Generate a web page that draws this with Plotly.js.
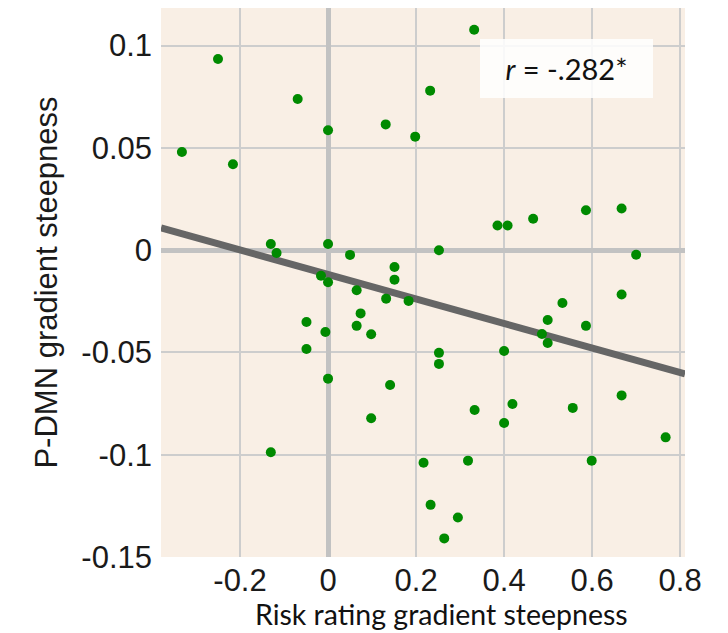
<!DOCTYPE html>
<html>
<head>
<meta charset="utf-8">
<script src="https://cdn.plot.ly/plotly-3.0.1.min.js"></script>
<style>html,body{margin:0;padding:0;background:#fff;}#chart{width:728px;height:633px;}</style>
</head>
<body>
<div id="chart"></div>
<script>
// Risk rating gradient steepness (x) vs P-DMN gradient steepness (y)
const riskX = [0.332, -0.332, -0.25, -0.216, -0.069, 0.0, 0.131, 0.198, 0.232,
  -0.13, -0.117, 0.0, 0.05, 0.252, 0.151, 0.151, -0.016, 0.0, 0.065, 0.132, 0.183,
  0.074, -0.049, 0.065, -0.006, 0.098, -0.049, 0.252, 0.252, 0.0, 0.141, 0.098,
  -0.13, 0.217, 0.233, 0.264, 0.295, 0.318, 0.333, 0.419, 0.40, 0.40, 0.499, 0.486,
  0.499, 0.5325, 0.586, 0.667, 0.667, 0.556, 0.599, 0.767, 0.385, 0.408, 0.466,
  0.586, 0.667, 0.70];
const pdmnY = [0.1078, 0.048, 0.0935, 0.042, 0.0739, 0.0586, 0.0615, 0.0555, 0.078,
  0.003, -0.0014, 0.003, -0.0023, 0.0, -0.0082, -0.0144, -0.0125, -0.0157, -0.0196, -0.0237, -0.0248,
  -0.0309, -0.0351, -0.037, -0.040, -0.0411, -0.0483, -0.0502, -0.0556, -0.0628, -0.0659, -0.0822,
  -0.0988, -0.1039, -0.1245, -0.1409, -0.1307, -0.1029, -0.0781, -0.0752, -0.0845, -0.0493, -0.0341, -0.041,
  -0.0454, -0.0258, -0.037, -0.0217, -0.071, -0.0771, -0.1029, -0.0915, 0.0121, 0.0121, 0.0154,
  0.0195, 0.0204, -0.0022];
// regression line end points
const fitX = [-0.3795, 0.811];
const fitY = [0.0109, -0.0605];

const xTickVals = [-0.2, 0, 0.2, 0.4, 0.6, 0.8];
const xTickText = ['-0.2', '0', '0.2', '0.4', '0.6', '0.8'];
const yTickVals = [-0.15, -0.1, -0.05, 0, 0.05, 0.1];
const yTickText = ['-0.15', '-0.1', '-0.05', '0', '0.05', '0.1'];

const xTitle = 'Risk rating gradient steepness';
const yTitle = 'P-DMN gradient steepness';
const rText = '<i>r</i> = -.282*';

const traces = [
  {x: fitX, y: fitY, type: 'scatter', mode: 'lines',
   line: {color: '#666666', width: 7}, hoverinfo: 'skip'},
  {x: riskX, y: pdmnY, type: 'scatter', mode: 'markers',
   marker: {color: '#008a00', size: 10}}
];

const sansFam = 'Arial, Liberation Sans, sans-serif';
const tickFont = {family: sansFam, size: 31, color: '#1a1a1a'};

const layout = {
  width: 728, height: 633,
  margin: {l: 161, r: 43, t: 8, b: 76, pad: 0},
  paper_bgcolor: '#ffffff',
  plot_bgcolor: '#f9efe5',
  showlegend: false,
  font: {family: sansFam},
  xaxis: {
    range: [-0.3795, 0.811], tickvals: xTickVals, ticktext: xTickText,
    showgrid: true, gridcolor: '#cdcdcd', gridwidth: 2,
    zeroline: true, zerolinecolor: '#c2c2c2', zerolinewidth: 5,
    showline: false, ticks: '', tickfont: tickFont, ticklabelstandoff: 2
  },
  yaxis: {
    range: [-0.15, 0.1184], tickvals: yTickVals, ticktext: yTickText,
    showgrid: true, gridcolor: '#cdcdcd', gridwidth: 2,
    zeroline: true, zerolinecolor: '#c2c2c2', zerolinewidth: 5,
    showline: false, ticks: '', tickfont: tickFont, ticklabelstandoff: 8,
    title: {text: yTitle, font: {family: sansFam, size: 31, color: '#1a1a1a'}, standoff: 14}
  },
  annotations: [
    {xref: 'paper', yref: 'paper', x: 0.535, y: -0.104, xanchor: 'center', yanchor: 'middle',
     text: xTitle, showarrow: false,
     font: {family: 'Lato, Open Sans, sans-serif', size: 28.5, color: '#111111'}},
    {xref: 'paper', yref: 'paper', x: 0.774, y: 0.8898, xanchor: 'center', yanchor: 'middle',
     text: rText, showarrow: false, width: 173, height: 59, borderpad: 0, borderwidth: 0,
     bgcolor: 'rgba(255,255,255,0.85)',
     font: {family: 'Lato, Open Sans, sans-serif', size: 29, color: '#111111'}}
  ]
};

Plotly.newPlot('chart', traces, layout, {staticPlot: true, displayModeBar: false});
</script>
</body>
</html>
